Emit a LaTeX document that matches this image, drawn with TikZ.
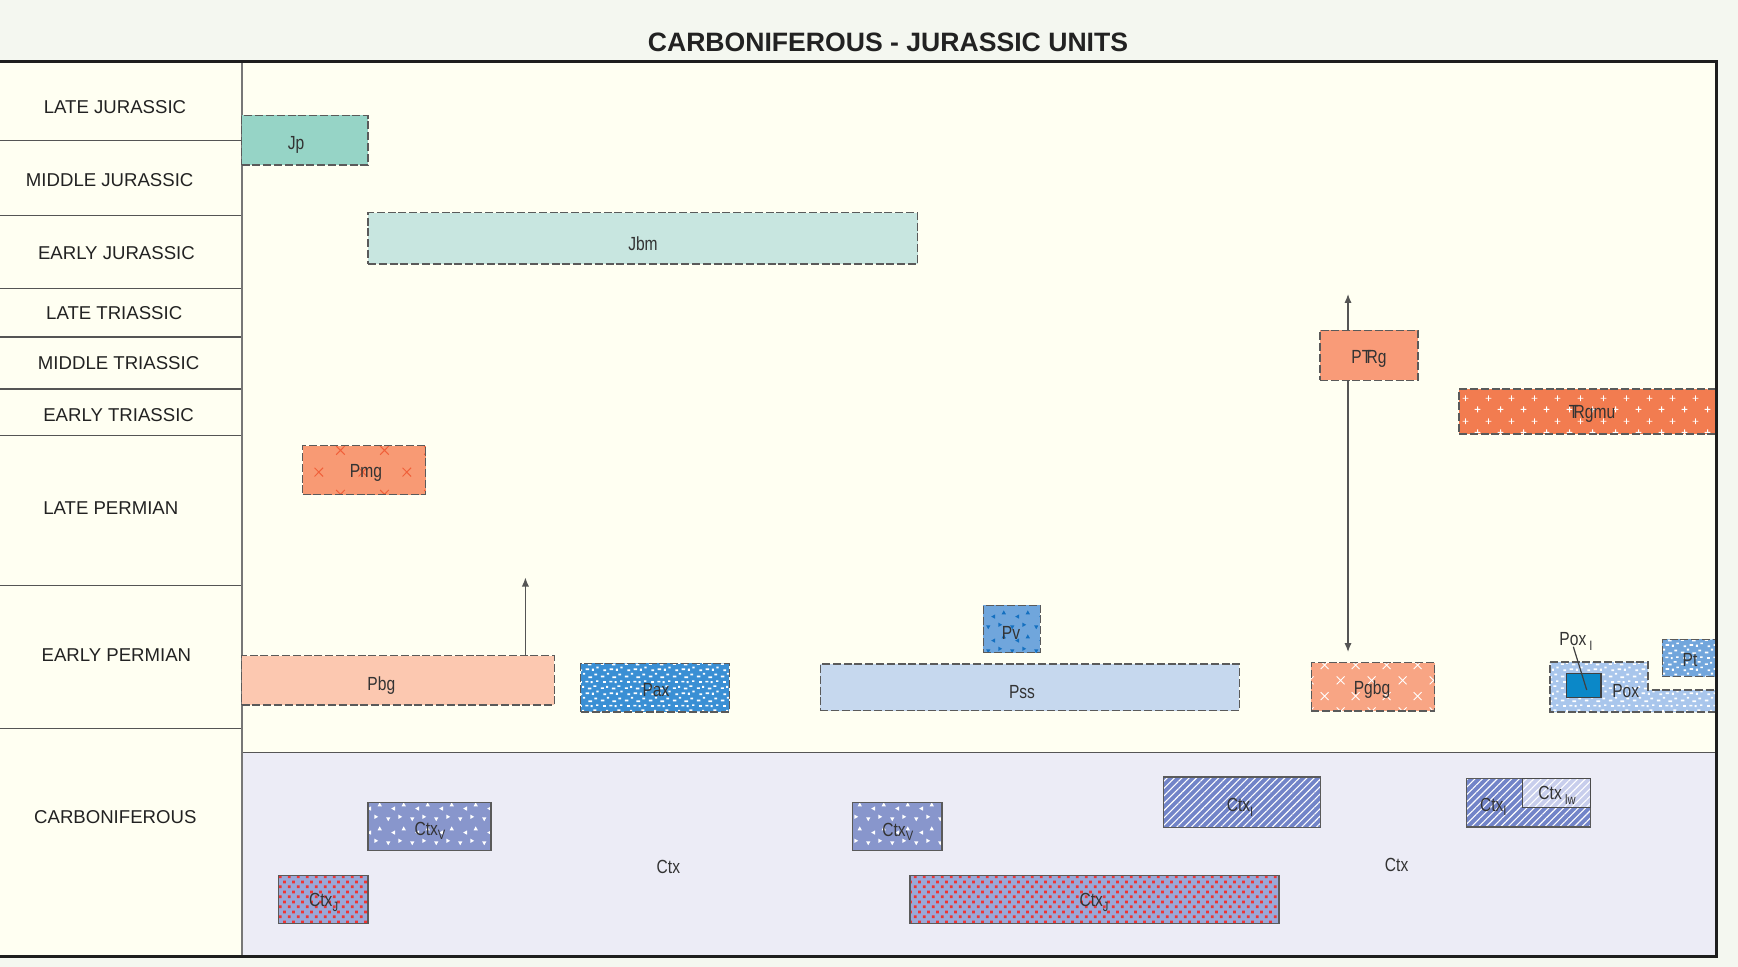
\documentclass[tikz,border=0pt]{standalone}
\usepackage{fontspec}
\setmainfont{Liberation Sans}
\newfontfamily\condfont[FakeStretch=0.82]{Liberation Sans}
\usetikzlibrary{patterns,patterns.meta,arrows.meta}

% ---------- colours ----------
\definecolor{outerbg}{HTML}{F4F7F0}
\definecolor{innerbg}{HTML}{FFFFF2}
\definecolor{carbbg}{HTML}{ECECF6}
\definecolor{framecol}{HTML}{1E1E1E}
\definecolor{gridcol}{HTML}{555555}
\definecolor{boxline}{HTML}{5A5A5A}
\definecolor{txtcol}{HTML}{222222}
\definecolor{lbltxt}{HTML}{333333}
\definecolor{arrowgray}{HTML}{555555}
\definecolor{cJp}{HTML}{96D4C6}
\definecolor{cJbm}{HTML}{C8E6E0}
\definecolor{cPTRg}{HTML}{F99B78}
\definecolor{cTRgmu}{HTML}{F27C50}
\definecolor{cPmg}{HTML}{F89A74}
\definecolor{cPmgx}{HTML}{F0603A}
\definecolor{cPbg}{HTML}{FCC8B0}
\definecolor{cPax}{HTML}{3A8FD4}
\definecolor{cPv}{HTML}{70A6DC}
\definecolor{cPvm}{HTML}{1470C0}
\definecolor{cPss}{HTML}{C6D8EE}
\definecolor{cPgbg}{HTML}{F8A584}
\definecolor{cPox}{HTML}{A9C6EC}
\definecolor{cPoxI}{HTML}{0B88C8}
\definecolor{cPt}{HTML}{72A6DC}
\definecolor{cCtxV}{HTML}{8896CC}
\definecolor{cCtxJ}{HTML}{9AA8D8}
\definecolor{cCtxJd}{HTML}{EE3434}
\definecolor{cCtxI}{HTML}{7284C8}
\definecolor{cCtxlw}{HTML}{C8CEEC}

% ---------- fill textures ----------
\pgfdeclarepatternformonly{plusmarks}{\pgfpointorigin}{\pgfpoint{11.5pt}{11.5pt}}{\pgfpoint{11.5pt}{11.5pt}}{%
  \pgfsetlinewidth{0.45pt}%
  \pgfpathmoveto{\pgfpoint{1.4pt}{2.9pt}}\pgfpathlineto{\pgfpoint{4.4pt}{2.9pt}}%
  \pgfpathmoveto{\pgfpoint{2.9pt}{1.4pt}}\pgfpathlineto{\pgfpoint{2.9pt}{4.4pt}}%
  \pgfpathmoveto{\pgfpoint{7.1pt}{8.6pt}}\pgfpathlineto{\pgfpoint{10.1pt}{8.6pt}}%
  \pgfpathmoveto{\pgfpoint{8.6pt}{7.1pt}}\pgfpathlineto{\pgfpoint{8.6pt}{10.1pt}}%
  \pgfusepath{stroke}}

\pgfdeclarepatternformonly{xmarks}{\pgfpointorigin}{\pgfpoint{15.5pt}{15.5pt}}{\pgfpoint{15.5pt}{15.5pt}}{%
  \pgfsetlinewidth{0.45pt}%
  \pgfpathmoveto{\pgfpoint{1.9pt}{1.9pt}}\pgfpathlineto{\pgfpoint{5.9pt}{5.9pt}}%
  \pgfpathmoveto{\pgfpoint{1.9pt}{5.9pt}}\pgfpathlineto{\pgfpoint{5.9pt}{1.9pt}}%
  \pgfpathmoveto{\pgfpoint{9.6pt}{9.6pt}}\pgfpathlineto{\pgfpoint{13.6pt}{13.6pt}}%
  \pgfpathmoveto{\pgfpoint{9.6pt}{13.6pt}}\pgfpathlineto{\pgfpoint{13.6pt}{9.6pt}}%
  \pgfusepath{stroke}}

\pgfdeclarepatternformonly{xsparse}{\pgfpointorigin}{\pgfpoint{22pt}{22pt}}{\pgfpoint{22pt}{22pt}}{%
  \pgfsetlinewidth{0.5pt}%
  \pgfpathmoveto{\pgfpoint{3.3pt}{3.3pt}}\pgfpathlineto{\pgfpoint{7.7pt}{7.7pt}}%
  \pgfpathmoveto{\pgfpoint{3.3pt}{7.7pt}}\pgfpathlineto{\pgfpoint{7.7pt}{3.3pt}}%
  \pgfpathmoveto{\pgfpoint{14.3pt}{14.3pt}}\pgfpathlineto{\pgfpoint{18.7pt}{18.7pt}}%
  \pgfpathmoveto{\pgfpoint{14.3pt}{18.7pt}}\pgfpathlineto{\pgfpoint{18.7pt}{14.3pt}}%
  \pgfusepath{stroke}}

\pgfdeclarepatternformonly{specks}{\pgfpointorigin}{\pgfpoint{12pt}{12pt}}{\pgfpoint{12pt}{12pt}}{%
  \foreach \a/\b/\w/\h in {0.5/0.8/1.8/0.9, 3.5/2.2/1.2/1.0, 6.4/0.5/1.9/0.8, 9.5/1.8/1.4/1.0,
      1.8/4.0/1.4/0.9, 5.0/4.6/1.8/0.9, 8.2/4.2/1.0/1.1, 10.5/5.5/1.2/0.8,
      0.4/7.2/1.6/0.8, 3.2/7.8/1.0/1.0, 6.2/7.0/1.8/0.9, 9.0/8.3/1.6/0.8,
      1.6/10.3/1.4/0.9, 4.8/10.6/1.6/0.8, 7.6/10.2/1.0/1.0, 10.4/10.8/1.2/0.8}{%
    \pgfpathrectangle{\pgfpoint{\a pt}{\b pt}}{\pgfpoint{\w pt}{\h pt}}}%
  \pgfusepath{fill}}

\pgfdeclarepatternformonly{trimarks}{\pgfpointorigin}{\pgfpoint{12pt}{12pt}}{\pgfpoint{12pt}{12pt}}{%
  \pgfpathmoveto{\pgfpoint{1.1pt}{2.9pt}}\pgfpathlineto{\pgfpoint{3.3pt}{2.9pt}}\pgfpathlineto{\pgfpoint{2.2pt}{0.9pt}}\pgfpathclose
  \pgfpathmoveto{\pgfpoint{7.4pt}{2.1pt}}\pgfpathlineto{\pgfpoint{7.4pt}{4.3pt}}\pgfpathlineto{\pgfpoint{9.4pt}{3.2pt}}\pgfpathclose
  \pgfpathmoveto{\pgfpoint{5.7pt}{6.3pt}}\pgfpathlineto{\pgfpoint{5.7pt}{8.5pt}}\pgfpathlineto{\pgfpoint{3.7pt}{7.4pt}}\pgfpathclose
  \pgfpathmoveto{\pgfpoint{9.1pt}{8.6pt}}\pgfpathlineto{\pgfpoint{11.3pt}{8.6pt}}\pgfpathlineto{\pgfpoint{10.2pt}{10.6pt}}\pgfpathclose
  \pgfusepath{fill}}

\pgfdeclarepatternformonly{reddots}{\pgfpointorigin}{\pgfpoint{4.35pt}{4.8pt}}{\pgfpoint{4.35pt}{4.8pt}}{%
  \pgfpathrectangle{\pgfpoint{0.45pt}{0.45pt}}{\pgfpoint{1.45pt}{1.45pt}}%
  \pgfpathrectangle{\pgfpoint{2.6pt}{2.85pt}}{\pgfpoint{1.45pt}{1.45pt}}%
  \pgfusepath{fill}}

% ---------- helpers ----------
% a rectangle node spanning (x1,y1)-(x2,y2), in pixel units
\newcommand\unitbox[6]{%
  \node[#6, minimum width={(#4-#2)*0.5pt}, minimum height={(#5-#3)*0.5pt}]
    (#1) at ({(#2+#4)/2},{(#3+#5)/2}) {};}
\newcommand\trias{T\kern-0.25em R}
\newcommand\lowsub[1]{\raisebox{-2.2pt}{\fontsize{6.8}{7}\selectfont #1}}

\begin{document}
\begin{tikzpicture}[x=0.5pt,y=-0.5pt,
  dashedbox/.style={draw=boxline, dash pattern=on 4pt off 1.4pt, line width=0.6pt,
                    inner sep=0pt, outer sep=0pt},
  solidbox/.style={draw=boxline, line width=0.65pt, inner sep=0pt, outer sep=0pt},
  lbl/.style={font=\condfont\fontsize{9.5}{11}\selectfont, text=lbltxt, inner sep=0pt,
              yshift=-1.3pt},
  rowlbl/.style={font=\fontsize{9.3}{11}\selectfont, text=txtcol, inner sep=0pt, yshift=-0.7pt},
  arr/.style={draw=arrowgray, line width=0.6pt, -{Latex[length=4.5pt,width=3.6pt]}},
  gridline/.style={draw=gridcol, line width=0.6pt},
  frameline/.style={draw=framecol, line width=1.5pt}]

% backgrounds
\useasboundingbox (0,0) rectangle (1738,967);
\fill[outerbg] (0,0) rectangle (1738,967);
\fill[innerbg] (0,62) rectangle (1716,956);
\fill[carbbg] (241.6,752) rectangle (1716,956);
\draw[draw=gridcol, line width=0.5pt] (241.6,752) -- (1716,752);

% title
\node[font=\bfseries\fontsize{13.3}{15}\selectfont, text=txtcol] (title) at (888,42)
  {CARBONIFEROUS - JURASSIC UNITS};

% period column
\foreach \yy in {140.8,215.3,288.2,337,389,435.6,585.2,728.2}
  \draw[gridline] (0,\yy) -- (241.6,\yy);
\draw[draw=gridcol!80, line width=0.9pt] (241.6,62) -- (241.6,956);

\node[rowlbl] (r1) at (115,105.3) {LATE JURASSIC};
\node[rowlbl] (r2) at (109.7,178.5) {MIDDLE JURASSIC};
\node[rowlbl] (r3) at (116.4,251.6) {EARLY JURASSIC};
\node[rowlbl] (r4) at (114.2,311.5) {LATE TRIASSIC};
\node[rowlbl] (r5) at (118.6,361.3) {MIDDLE TRIASSIC};
\node[rowlbl] (r6) at (118.6,413.4) {EARLY TRIASSIC};
\node[rowlbl] (r7) at (110.8,506.5) {LATE PERMIAN};
\node[rowlbl] (r8) at (116.4,654) {EARLY PERMIAN};
\node[rowlbl] (r9) at (115.3,815.8) {CARBONIFEROUS};

% Jurassic units
\unitbox{jp}{241.6}{115.5}{368}{165}{dashedbox, fill=cJp}
\unitbox{jbm}{368}{212.8}{917.8}{264}{dashedbox, fill=cJbm}

% Permian - Triassic units
\unitbox{ptrg}{1320}{330.3}{1418}{380.5}{dashedbox, fill=cPTRg}
\unitbox{trgmu}{1459}{389}{1716}{434}{dashedbox, preaction={fill=cTRgmu},
  preaction={pattern=plusmarks, pattern color=white}}
\unitbox{pmg}{302.6}{445.6}{425.6}{494.5}{dashedbox, preaction={fill=cPmg},
  preaction={pattern=xsparse, pattern color=cPmgx}}
\unitbox{pbg}{241.6}{655.5}{554.2}{705}{dashedbox, fill=cPbg}
\unitbox{pax}{580.8}{663.3}{729.3}{712}{dashedbox, preaction={fill=cPax},
  preaction={pattern=specks, pattern color=white}}
\unitbox{pv}{983.3}{605.2}{1040.2}{652.8}{dashedbox, preaction={fill=cPv},
  preaction={pattern=trimarks, pattern color=cPvm}}
\unitbox{pss}{820.2}{664}{1239.2}{710.6}{dashedbox, fill=cPss}
\unitbox{pgbg}{1311.2}{662.8}{1434.8}{711}{dashedbox, preaction={fill=cPgbg},
  preaction={pattern=xmarks, pattern color=white}}

% Pox outcrop (stepped outline)
\path[draw=boxline, dash pattern=on 4pt off 1.4pt, line width=0.6pt,
      preaction={fill=cPox}, preaction={pattern=specks, pattern color=white}]
  (1550,662) -- (1648,662) -- (1648,690) -- (1716,690) -- (1716,712) -- (1550,712) -- cycle;
\unitbox{poxi}{1566.7}{673.3}{1601}{697.7}{draw=framecol!85, line width=0.7pt, fill=cPoxI,
  inner sep=0pt, outer sep=0pt}
\unitbox{pt}{1662.3}{639.3}{1716}{676.7}{dashedbox, preaction={fill=cPt},
  preaction={pattern=specks, pattern color=white}}

% Carboniferous units
\unitbox{ctxva}{368}{802.7}{491}{850.8}{solidbox, preaction={fill=cCtxV},
  preaction={pattern=trimarks, pattern color=white}}
\unitbox{ctxja}{278.2}{875.6}{368}{923.3}{solidbox, preaction={fill=cCtxJ},
  preaction={pattern=reddots, pattern color=cCtxJd}}
\unitbox{ctxvb}{852.4}{802.7}{942.1}{850.5}{solidbox, preaction={fill=cCtxV},
  preaction={pattern=trimarks, pattern color=white}}
\unitbox{ctxjb}{910}{875.6}{1279}{923.3}{solidbox, preaction={fill=cCtxJ},
  preaction={pattern=reddots, pattern color=cCtxJd}}
\unitbox{ctxia}{1163.8}{777}{1320.5}{827.5}{solidbox, preaction={fill=cCtxI},
  preaction={pattern={Lines[angle=45,distance=2.6pt,line width=0.55pt]}, pattern color=white}}
\unitbox{ctxib}{1466.7}{778.3}{1590.7}{827}{solidbox, preaction={fill=cCtxI},
  preaction={pattern={Lines[angle=45,distance=2.6pt,line width=0.55pt]}, pattern color=white}}
\unitbox{ctxlw}{1522.7}{778.3}{1590.7}{807.7}{draw=framecol!80, line width=0.7pt,
  inner sep=0pt, outer sep=0pt, preaction={fill=cCtxlw},
  preaction={pattern={Lines[angle=45,distance=2.6pt,line width=0.55pt]}, pattern color=white}}

% age-range arrows
\coordinate (pbgup) at (525.4,577.5);
\coordinate (ptrgup) at (1348,294);
\coordinate (ptrgdn) at (1348,652);
\draw[arr] (pbgup |- pbg.north) -- (pbgup);
\draw[arr] (ptrgup |- ptrg.north) -- (ptrgup);
\draw[arr] (ptrgdn |- ptrg.south) -- (ptrgdn);

% unit labels
\node[lbl] (jp-l) at (296,142) {Jp};
\node[lbl] (jbm-l) at (643,241.6) {Jbm};
\node[lbl] (ptrg-l) at (1369,356) {P\trias g};
\node[lbl] (trgmu-l) at (1592,411) {\trias gmu};
\node[lbl] (pmg-l) at (366,470) {Pmg};
\node[lbl] (pbg-l) at (381.3,683) {Pbg};
\node[lbl] (pax-l) at (656,687) {Pax};
\node[lbl] (pv-l) at (1011,630) {Pv};
\node[lbl] (pss-l) at (1022,689) {Pss};
\node[lbl] (pgbg-l) at (1372,687) {Pgbg};
\node[lbl] (pox-l) at (1625.7,688.3) {Pox};
\node[lbl] (pt-l) at (1690,657.7) {Pt};
\node[lbl] (poxi-l) at (1576,639) {Pox\,\lowsub{I}};
\coordinate (poxdot) at (1586.7,690);
\draw[draw=framecol!85, line width=0.6pt] (1573.3,646.7) -- (poxdot);

\node[lbl] (ctxva-l) at (430,828) {Ctx\lowsub{V}};
\node[lbl] (ctxja-l) at (323.6,900) {Ctx\lowsub{J}};
\node[lbl] (ctx1) at (668.4,864.6) {Ctx};
\node[lbl] (ctxvb-l) at (897.8,829) {Ctx\lowsub{V}};
\node[lbl] (ctxjb-l) at (1094,900) {Ctx\lowsub{J}};
\node[lbl] (ctxia-l) at (1240,804.7) {Ctx\lowsub{I}};
\node[lbl] (ctxib-l) at (1493.3,804) {Ctx\lowsub{I}};
\node[lbl] (ctxlw-l) at (1557,792.7) {Ctx\,\lowsub{lw}};
\node[lbl] (ctx2) at (1396.6,862.3) {Ctx};

% outer frame
\draw[frameline] (0,62) -- (1716,62) -- (1716,956) -- (0,956);
\end{tikzpicture}
\end{document}
